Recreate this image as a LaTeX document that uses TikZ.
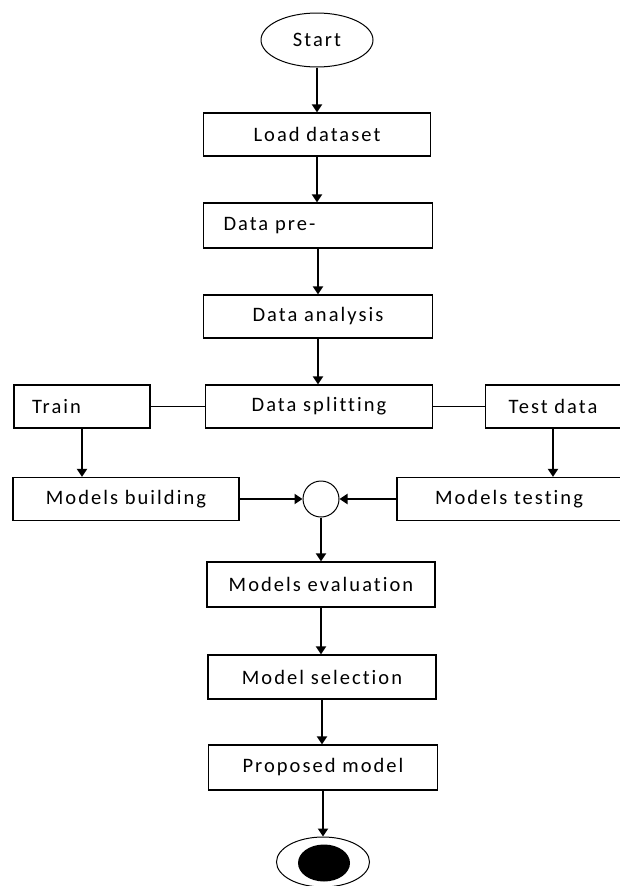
\documentclass[tikz,border=0pt]{standalone}
\usepackage{fontspec}
\setmainfont[LetterSpace=10, RawFeature={-liga;-clig}]{Carlito}
\usetikzlibrary{arrows.meta,shapes.geometric}
\begin{document}
\begin{tikzpicture}[x=1pt,y=-1pt,
  font=\fontsize{20.5}{24}\selectfont,
  box/.style={draw, line width=1.2pt, inner sep=0pt, minimum height=44pt},
  arr/.style={line width=2pt, -{Triangle[width=10pt,length=8pt]}},
  link/.style={line width=1pt}]
\useasboundingbox (0,0) rectangle (620,886);
\node[draw, ellipse, line width=1pt, minimum width=112pt, minimum height=54pt, inner sep=0pt] (start) at (317,40) {Start};
\node[box, minimum width=227pt, minimum height=43pt] (load) at (317,134.5) {Load dataset};
\node[box, minimum width=229pt, minimum height=45pt, text width=189pt, align=left, inner xsep=20pt] (pre) at (318,225.5) {Data pre-};
\node[box, minimum width=229pt, minimum height=43pt] (ana) at (318,316.5) {Data analysis};
\node[box, minimum width=227pt, minimum height=43pt] (split) at (319,406.5) {Data splitting};
\node[box, minimum width=136pt, minimum height=43pt, text width=100pt, align=left, inner xsep=18pt] (train) at (82,406.5) {Train};
\node[box, minimum width=135pt, minimum height=43pt] (test) at (553,406.5) {Test data};
\node[box, minimum width=226pt, minimum height=43pt] (build) at (126,499) {Models building};
\node[box, minimum width=224pt, minimum height=43pt] (mtest) at (509,499) {Models testing};
\node[draw, circle, line width=1pt, minimum size=36pt, inner sep=0pt] (join) at (321,499) {};
\node[box, minimum width=228pt, minimum height=45pt] (eval) at (321,584.5) {Models evaluation};
\node[box, minimum width=228pt, minimum height=44pt] (sel) at (322,677) {Model selection};
\node[box, minimum width=229pt, minimum height=45pt] (prop) at (323,767.5) {Proposed model};
\node[draw, ellipse, line width=1pt, minimum width=93pt, minimum height=50pt, inner sep=0pt] (end) at (323,862) {};
\node[ellipse, fill=black, minimum width=52pt, minimum height=37pt, inner sep=0pt] (endin) at (324,863) {};
\draw[arr] (start.south) -- (start.south |- load.north);
\draw[arr] (load.south) -- (load.south |- pre.north);
\draw[arr] (pre.south) -- (pre.south |- ana.north);
\draw[arr] (ana.south) -- (ana.south |- split.north);
\draw[link] (train.east) -- (split.west);
\draw[link] (split.east) -- (test.west);
\draw[arr] (train.south) -- (train.south |- build.north);
\draw[arr] (test.south) -- (test.south |- mtest.north);
\draw[arr] (build.east) -- (join.west);
\draw[arr] (mtest.west) -- (join.east);
\draw[arr] (join.south) -- (join.south |- eval.north);
\draw[arr] (eval.south) -- (eval.south |- sel.north);
\draw[arr] (sel.south) -- (sel.south |- prop.north);
\draw[arr] (prop.south) -- (prop.south |- end.north);
\end{tikzpicture}
\end{document}
